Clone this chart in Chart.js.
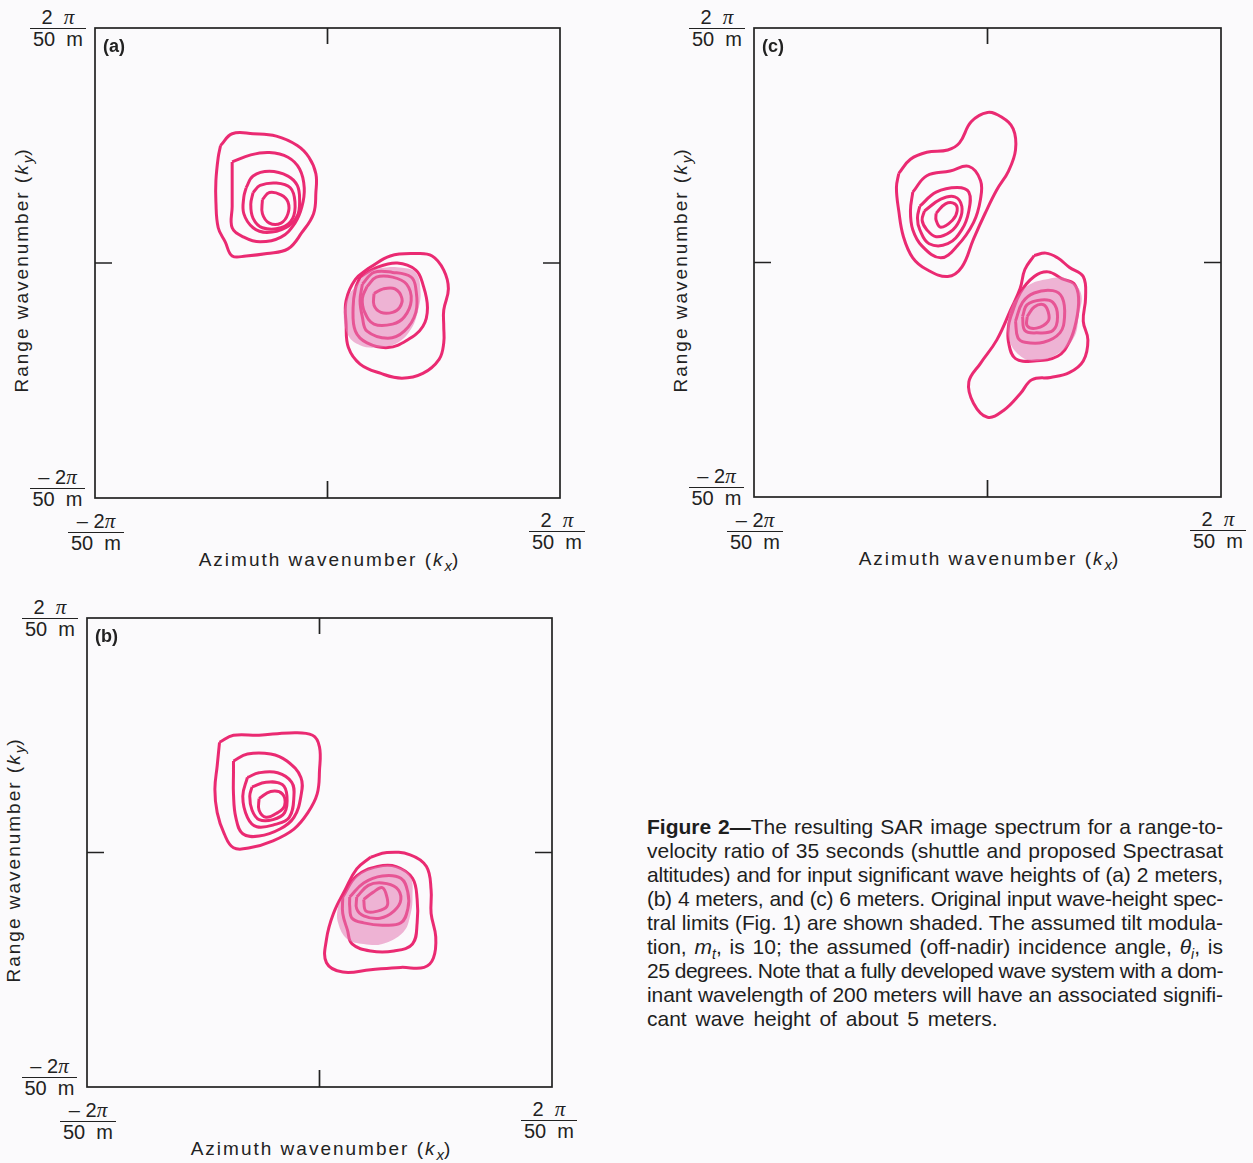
<!DOCTYPE html>
<html>
<head>
<meta charset="utf-8">
<script src="https://cdn.jsdelivr.net/npm/chart.js@4.4.0/dist/chart.umd.min.js"></script>
<style>
  body { margin: 0; background: #fbfafc; }
  #page { position: relative; width: 1253px; height: 1163px; overflow: hidden;
          font-family: "Liberation Sans", Arial, sans-serif; color: #222; }
  canvas { position: absolute; }
  .frac { position: absolute; text-align: center; font-size: 20px; line-height: 21px; }
  .frac .num { border-bottom: 1.6px solid #222; }
  .pi { font-family: "Liberation Serif", serif; font-style: italic; font-size: 21px; }
  .tag { position: absolute; font-weight: bold; font-size: 18px; }
  .axlab { position: absolute; font-size: 19px; letter-spacing: 2px; white-space: nowrap;
           transform: translate(-50%, -50%); }
  .axlab.rot { transform: translate(-50%, -50%) rotate(-90deg); }
  .axlab sub { font-size: 15px; font-style: italic; letter-spacing: 0; line-height: 0; }
  #caption { position: absolute; left: 647px; top: 815px; width: 576px;
             font-size: 21px; line-height: 24px; color: #1e1e1e; }
  #caption div { text-align: justify; text-align-last: justify; height: 24px; }
  #caption div.last { text-align-last: left; word-spacing: 3px; }
  #caption sub { font-size: 14px; font-style: italic; line-height: 0; }
</style>
</head>
<body>
<div id="page"></div>
<script>
// wavenumbers in % of 2*pi/50 m, x = azimuth (kx), y = range (ky)
const axisMin = -100;
const axisMax = 100;

// (a) Hs = 2 m
const a_upper = [
  [[-46,50],[-41,55],[-32,55],[-22,54],[-13,50],[-8,45],[-5,38],[-5,30],[-6,21],[-11,13],[-17,6],[-26,4],[-35,3],[-41,3],[-44,9],[-47,15],[-48,26],[-48,35],[-47,45]],
  [[-41,43],[-33,46],[-25,47],[-17,45],[-12,40],[-10,32],[-11,24],[-14,17],[-20,11],[-29,9],[-36,11],[-41,15],[-41,24],[-41,34]],
  [[-35,32],[-32,37],[-25,39],[-17,37],[-13,33],[-12,27],[-13,20],[-18,15],[-26,13],[-32,15],[-36,21],[-36,28]],
  [[-32,30],[-29,33],[-22,34],[-16,32],[-14,26],[-15,19],[-20,15],[-28,15],[-32,19],[-33,25]],
  [[-28,27],[-25,30],[-20,29],[-17,26],[-17,21],[-20,17],[-25,17],[-28,21]]
];
const a_lower = [
  [[18,-2],[27,3],[38,4],[45,3],[50,-3],[52,-11],[50,-20],[50,-27],[50,-34],[48,-41],[41,-47],[32,-49],[23,-47],[14,-43],[9,-36],[8,-26],[8,-16],[12,-7]],
  [[14,-6],[21,-2],[30,0],[38,-3],[41,-9],[43,-19],[41,-27],[34,-33],[26,-36],[17,-34],[12,-29],[11,-19],[12,-11]],
  [[15,-9],[20,-4],[28,-4],[36,-6],[38,-11],[38,-21],[33,-29],[26,-32],[17,-29],[15,-23],[14,-16]],
  [[17,-10],[21,-6],[28,-6],[34,-9],[36,-16],[33,-23],[28,-26],[20,-26],[16,-21],[15,-15]],
  [[20,-13],[24,-11],[29,-11],[32,-15],[31,-19],[28,-21],[23,-21],[20,-18]]
];
const a_shade = [[12,-10],[17,-4],[24,-2],[32,-2],[38,-4],[40,-12],[39,-20],[36,-28],[30,-34],[21,-36],[14,-35],[9,-31],[7,-22],[9,-14]];

// (b) Hs = 4 m
const b_upper = [
  [[-43,47],[-37,50],[-26,50],[-13,51],[-3,50],[0,45],[0,35],[-1,25],[-5,17],[-11,10],[-20,5],[-30,2],[-37,2],[-41,8],[-44,17],[-45,27],[-44,37]],
  [[-37,39],[-31,42],[-21,42],[-14,39],[-8,32],[-8,24],[-11,15],[-17,10],[-26,7],[-33,8],[-36,15],[-37,25],[-37,34]],
  [[-31,32],[-26,34],[-18,34],[-12,30],[-11,24],[-13,15],[-19,12],[-27,11],[-31,15],[-33,24]],
  [[-29,28],[-23,30],[-16,29],[-14,24],[-15,17],[-20,14],[-26,14],[-29,18],[-30,24]],
  [[-26,23],[-21,26],[-16,25],[-15,20],[-18,17],[-23,15],[-26,18]]
];
const b_lower = [
  [[22,-2],[29,0],[39,-1],[46,-6],[48,-16],[48,-26],[50,-36],[49,-45],[45,-49],[35,-49],[22,-50],[10,-51],[3,-47],[3,-37],[6,-26],[11,-16],[16,-7]],
  [[10,-19],[16,-10],[25,-6],[33,-6],[40,-11],[42,-20],[42,-30],[40,-39],[32,-42],[22,-42],[14,-39],[12,-33],[10,-26]],
  [[13,-19],[19,-13],[27,-10],[35,-11],[38,-17],[38,-24],[35,-30],[27,-31],[19,-30],[14,-28],[13,-23]],
  [[16,-19],[21,-14],[27,-13],[33,-15],[35,-20],[32,-25],[26,-28],[19,-27],[16,-24]],
  [[19,-20],[23,-17],[27,-15],[29,-19],[29,-23],[25,-25],[20,-25]]
];
const b_shade = [[10,-19],[16,-10],[25,-6],[33,-6],[39,-10],[40,-19],[39,-27],[36,-34],[27,-39],[19,-39],[12,-37],[8,-30],[8,-23]];

// (c) Hs = 6 m
const c_upper = [
  [[-38,38],[-33,44],[-26,47],[-17,48],[-12,51],[-7,60],[0,64],[6,62],[11,57],[12,48],[9,39],[4,31],[-1,21],[-6,10],[-11,-2],[-17,-6],[-26,-3],[-32,2],[-36,11],[-38,22],[-39,32]],
  [[-32,30],[-26,37],[-16,39],[-8,41],[-3,35],[-3,27],[-6,17],[-13,7],[-20,2],[-28,7],[-32,14],[-33,22]],
  [[-29,24],[-22,30],[-13,32],[-8,30],[-8,22],[-11,14],[-17,8],[-25,8],[-29,14],[-30,19]],
  [[-27,22],[-20,27],[-14,28],[-11,24],[-12,18],[-16,13],[-22,11],[-26,14],[-28,18]],
  [[-22,21],[-18,25],[-14,25],[-13,22],[-15,18],[-20,15],[-22,18]]
];
const c_lower = [
  [[20,3],[25,4],[30,2],[35,-2],[41,-6],[42,-15],[41,-25],[43,-33],[41,-42],[35,-47],[27,-49],[19,-50],[14,-56],[7,-63],[0,-66],[-6,-60],[-8,-51],[-3,-43],[4,-33],[10,-20],[14,-11],[16,-3]],
  [[10,-23],[14,-13],[20,-6],[26,-4],[32,-7],[37,-9],[39,-15],[38,-25],[35,-34],[30,-40],[20,-42],[12,-41],[9,-34],[9,-27]],
  [[12,-25],[15,-17],[20,-13],[28,-12],[32,-15],[33,-23],[31,-30],[24,-34],[16,-34],[13,-32]],
  [[15,-23],[17,-18],[23,-16],[28,-17],[30,-23],[28,-29],[21,-30],[16,-29]],
  [[17,-23],[20,-19],[24,-18],[26,-21],[26,-25],[21,-28],[17,-27]]
];
const c_shade = [[11,-17],[17,-10],[26,-7],[34,-7],[40,-13],[39,-23],[37,-32],[30,-39],[20,-42],[13,-39],[9,-32],[9,-23]];

const lineColor = "#ea2a72";
const shadeColor = "rgba(228,120,178,0.55)";

const page = document.getElementById("page");

//frame of the plot with the centre ticks
const framePlugin = {
  id: "frame",
  afterDraw(chart) {
    const { ctx, chartArea: a, scales } = chart;
    const cx = scales.x.getPixelForValue(0);
    const cy = scales.y.getPixelForValue(0);
    ctx.save();
    ctx.strokeStyle = "#222";
    ctx.lineWidth = 1.7;
    ctx.strokeRect(a.left, a.top, a.right - a.left, a.bottom - a.top);
    ctx.beginPath();
    ctx.moveTo(cx, a.top); ctx.lineTo(cx, a.top + 16);
    ctx.moveTo(cx, a.bottom); ctx.lineTo(cx, a.bottom - 17);
    ctx.moveTo(a.left, cy); ctx.lineTo(a.left + 17, cy);
    ctx.moveTo(a.right, cy); ctx.lineTo(a.right - 17, cy);
    ctx.stroke();
    ctx.restore();
  }
};

const toXY = (pts) => pts.concat([pts[0]]).map(([x, y]) => ({ x, y }));

function frac(x, y, w, neg) {
  const d = document.createElement("div");
  d.className = "frac";
  d.style.left = x + "px";
  d.style.top = (y - 21) + "px";
  d.style.width = w + "px";
  const num = neg ? "\u2013 2<span class=\"pi\">\u03c0</span>" : "2 &nbsp;<span class=\"pi\">\u03c0</span>";
  d.innerHTML = `<div class="num">${num}</div><div class="den">50&nbsp;&nbsp;m</div>`;
  page.appendChild(d);
}

function addText(cls, html, x, y) {
  const d = document.createElement("div");
  d.className = cls;
  d.style.left = x + "px";
  d.style.top = y + "px";
  d.innerHTML = html;
  page.appendChild(d);
}

function makePanel(tag, box, upper, lower, shade) {
  const pad = 4;
  const cv = document.createElement("canvas");
  cv.width = box.w + 2 * pad;
  cv.height = box.h + 2 * pad;
  cv.style.left = (box.left - pad) + "px";
  cv.style.top = (box.top - pad) + "px";
  page.appendChild(cv);

  const datasets = [];
  datasets.push({
    data: toXY(shade),
    showLine: true,
    fill: "shape",
    backgroundColor: shadeColor,
    borderWidth: 0,
    pointRadius: 0,
    tension: 0.4
  });
  upper.concat(lower).forEach((ring) => {
    datasets.push({
      data: toXY(ring),
      showLine: true,
      fill: false,
      borderColor: lineColor,
      borderWidth: 3,
      pointRadius: 0,
      tension: 0.4
    });
  });

  new Chart(cv, {
    type: "scatter",
    data: { datasets },
    options: {
      responsive: false,
      animation: false,
      events: [],
      layout: { padding: pad },
      plugins: { legend: { display: false }, tooltip: { enabled: false } },
      scales: {
        x: { type: "linear", min: axisMin, max: axisMax, display: false },
        y: { type: "linear", min: axisMin, max: axisMax, display: false }
      }
    },
    plugins: [framePlugin]
  });

  const right = box.left + box.w;
  const bottom = box.top + box.h;
  frac(box.left - 65, box.top, 56, false);
  frac(box.left - 65, bottom - 10, 55, true);
  frac(box.left - 27, bottom + 34, 56, true);
  frac(right - 31, bottom + 33, 56, false);
  addText("tag", "(" + tag + ")", box.left + 8, box.top + 8);
  addText("axlab", "Azimuth wavenumber (<i>k</i><sub>x</sub>)", box.left + box.w / 2 + 2, bottom + 62);
  addText("axlab rot", "Range wavenumber (<i>k</i><sub>y</sub>)", box.left - 73, box.top + 242);
}

makePanel("a", { left: 95, top: 28, w: 465, h: 470 }, a_upper, a_lower, a_shade);
makePanel("c", { left: 754, top: 28, w: 467, h: 469 }, c_upper, c_lower, c_shade);
makePanel("b", { left: 87, top: 618, w: 465, h: 469 }, b_upper, b_lower, b_shade);

const captionLines = [
  "<b>Figure 2\u2014</b>The resulting SAR image spectrum for a range-to-",
  "velocity ratio of 35 seconds (shuttle and proposed Spectrasat",
  "altitudes) and for input significant wave heights of (a) 2 meters,",
  "(b) 4 meters, and (c) 6 meters. Original input wave-height spec-",
  "tral limits (Fig. 1) are shown shaded. The assumed tilt modula-",
  "tion, <i>m</i><sub>t</sub>, is 10; the assumed (off-nadir) incidence angle, <i>\u03b8</i><sub>i</sub>, is",
  "25 degrees. Note that a fully developed wave system with a dom-",
  "inant wavelength of 200 meters will have an associated signifi-",
  "cant wave height of about 5 meters."
];
const cap = document.createElement("div");
cap.id = "caption";
page.appendChild(cap);
captionLines.forEach((t, i) => {
  const l = document.createElement("div");
  if (i === captionLines.length - 1) l.className = "last";
  l.innerHTML = t;
  cap.appendChild(l);
  //tighten lines that would not fit on one line
  l.style.whiteSpace = "nowrap";
  let ls = 0;
  while (l.scrollWidth > 576 && ls > -2) {
    ls -= 0.1;
    l.style.letterSpacing = ls + "px";
  }
  l.style.whiteSpace = "normal";
});
</script>
</body>
</html>
